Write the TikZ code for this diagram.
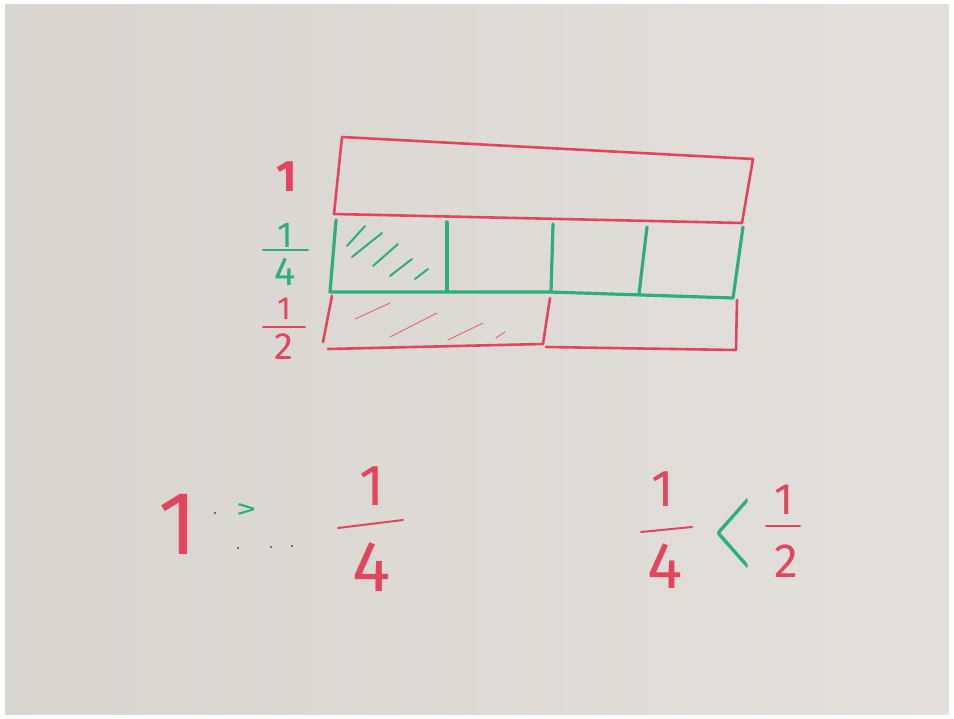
\documentclass[tikz,border=0pt]{standalone}
\usepackage{fontspec}
\setmainfont{Fira Sans}
\definecolor{markred}{HTML}{E2465E}
\definecolor{markgreen}{HTML}{2DAE7C}
\definecolor{boardgrey}{HTML}{D8D4CE}
\definecolor{boardlight}{HTML}{E3E0DB}

\begin{document}
\begin{tikzpicture}[x=1pt,y=-1pt,
  redline/.style={draw=markred,line width=2.6pt,line join=round,line cap=round},
  greenline/.style={draw=markgreen,line width=3.2pt,line join=round,line cap=round},
  hatchred/.style={draw=markred!80,line width=1pt,line cap=round},
  hatchgreen/.style={draw=markgreen,line width=2pt,line cap=round},
  bar/.style={line width=2pt,line cap=round},
  digit/.style={inner sep=0pt,font=\fontsize{#1}{#1}\selectfont}]
  \useasboundingbox (0,0) rectangle (954,719);
  % board
  \fill[white] (0,0) rectangle (954,719);
  \shade[left color=boardgrey,right color=boardlight] (5,5) rectangle (949,714);
  % whole
  \draw[redline] (342,137) -- (753,159) -- (742,223) -- (334,214) -- cycle;
  % quarters
  \draw[greenline] (336,220) -- (330,292) -- (550,292) -- (733,298) -- (743,227);
  \draw[greenline] (447,222) -- (447,291);
  \draw[greenline] (553,224) -- (551,292);
  \draw[greenline] (647,227) -- (639,294);
  \foreach \a/\b/\c/\d in {347/246/365/226,352/257/382/233,373/266/398/244,390/276/412/259,415/279/428/269}
    \draw[hatchgreen] (\a,\b) -- (\c,\d);
  % halves
  \draw[redline] (332,296) -- (323,342);
  \draw[redline] (328,349) -- (543,344) -- (550,298);
  \draw[redline] (546,347) -- (736,350) -- (737,300);
  \foreach \a/\b/\c/\d in {355/319/390/303,390/337/437/313,448/340/483/323,496/338/505/332}
    \draw[hatchred] (\a,\b) -- (\c,\d);
  % row labels
  \node[digit=44,text=markred] (lblone) at (287,177) {\bfseries 1};
  \node[digit=36,text=markgreen] (lblqn) at (285,235) {1};
  \node[digit=40,text=markgreen] (lblqd) at (285,272) {4};
  \draw[bar,markgreen] (263,250) -- (308,250);
  \node[digit=32,text=markred] (lblhn) at (284,309) {1};
  \node[digit=38,text=markred] (lblhd) at (284,347) {2};
  \draw[bar,markred] (263,327) -- (305,327);
  % 1 > 1/4
  \node[digit=90,text=markred] (bigone) at (178,524) {1};
  \node[digit=34,text=markgreen] (gt) at (246,511) {\scalebox{1.2}[0.8]{>}};
  \foreach \p in {(238,548),(271,547),(292,546),(215,513)}
    \fill[markred!60!black] \p circle (1.1);
  \node[digit=58,text=markred] (ln) at (372,486) {1};
  \draw[bar,markred] (338,528) -- (403,520);
  \node[digit=72,text=markred] (ld) at (372,567) {4};
  % 1/4 < 1/2
  \node[digit=52,text=markred] (rqn) at (663,489) {1};
  \draw[bar,markred] (641,532) -- (692,527);
  \node[digit=66,text=markred] (rqd) at (665,566) {4};
  \node[inner sep=0pt,text=markgreen] (lt) at (733,533) {\scalebox{5}[12]{$<$}};
  \node[digit=44,text=markred] (rhn) at (784,500) {1};
  \draw[bar,markred] (766,526) -- (800,526);
  \node[digit=48,text=markred] (rhd) at (786,561) {2};
\end{tikzpicture}
\end{document}
